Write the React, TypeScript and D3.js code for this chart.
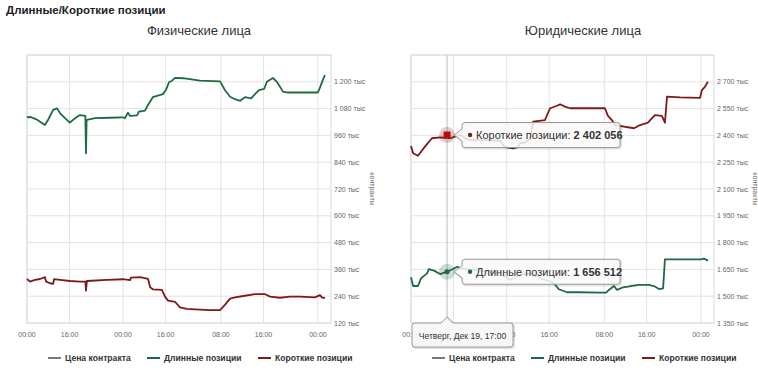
import React from 'react';
import * as d3 from 'd3';

// x is a position on the (ordinal, gap-free) time axis, 0..100
const xTickPos = [0, 14, 31.6, 45.6, 63.8, 77.8, 95.7];
const xTickLabels = ['00:00', '16:00', '00:00', '16:00', '08:00', '16:00', '00:00'];

const physTicks = [120, 240, 360, 480, 600, 720, 840, 960, 1080, 1200];
const jurTicks = [1350, 1500, 1650, 1800, 1950, 2100, 2250, 2400, 2550, 2700];

const physLong: [number, number][] = [
  [0, 1044], [0.6, 1040], [1.0, 1043], [2.5, 1035], [3.2, 1031], [4.3, 1021], [5.9, 1007], [6.9, 1029], [8.6, 1074],
  [9.9, 1081], [10.9, 1059], [12.5, 1037], [14.1, 1017], [15.8, 1037], [17.4, 1051],
  [19.2, 1047], [19.4, 880], [19.6, 1027], [19.7, 1029], [22.4, 1037], [27.3, 1039],
  [31.6, 1041], [32.2, 1037], [33.2, 1062], [33.9, 1047], [36.2, 1050], [36.8, 1066],
  [38.8, 1071], [39.8, 1096], [41.4, 1131], [44.7, 1145], [45.7, 1163], [46.7, 1198],
  [47.7, 1205], [48.7, 1218], [51.3, 1216], [56.9, 1205], [63.5, 1202], [63.8, 1195],
  [65.1, 1163], [66.8, 1133], [68.4, 1122], [70.1, 1115], [71.7, 1131], [73.7, 1126],
  [75.0, 1145], [76.3, 1163], [78.0, 1168], [78.9, 1200], [80.9, 1217], [82.2, 1200],
  [84.2, 1156], [85.9, 1152], [95.7, 1152], [96.4, 1175], [97.4, 1211], [98.0, 1230],
];

const physShort: [number, number][] = [
  [0, 317], [1.0, 305], [2.6, 313], [4.3, 317], [5.9, 325], [6.3, 305], [7.6, 298],
  [8.6, 295], [8.9, 316], [10.9, 313], [14.1, 308], [17.4, 305], [19.2, 305], [19.4, 265],
  [19.7, 308], [26.3, 313], [31.6, 316], [33.9, 312], [34.2, 323], [37.2, 325], [39.8, 318],
  [40.5, 280], [41.4, 271], [44.4, 268], [45.4, 238], [46.4, 220], [48.7, 215], [50.3, 190],
  [52.6, 183], [55.3, 181], [60.2, 178], [63.5, 178], [65.1, 201], [66.8, 229], [68.4, 235],
  [71.7, 242], [75.0, 249], [78.3, 249], [80.0, 238], [83.2, 233], [86.5, 238], [89.8, 238],
  [94.7, 235], [96.4, 245], [97.0, 235], [98.0, 231],
];

const jurLong: [number, number][] = [
  [0, 1606], [0.7, 1557], [2.3, 1557], [3.3, 1600], [5.3, 1628], [5.9, 1652], [7.6, 1643],
  [9.6, 1624], [11.9, 1637], [13.9, 1652], [15.2, 1665], [16.5, 1656], [18.2, 1651],
  [20.5, 1647], [25, 1640], [30, 1620], [32.7, 1591], [35.9, 1619], [39.3, 1628], [43.6, 1595],
  [45.5, 1585], [47.2, 1572], [48.8, 1539], [51.5, 1522], [55.4, 1522], [62.7, 1520],
  [64.4, 1520], [65.3, 1535], [67.0, 1557], [68.0, 1535], [70.0, 1550], [72.6, 1557],
  [75.2, 1563], [78.5, 1563], [80.2, 1557], [82.0, 1539], [83.2, 1544], [83.8, 1706],
  [95.7, 1706], [96.7, 1710], [98.0, 1699],
];

const jurShort: [number, number][] = [
  [0, 2341], [0.7, 2300], [2.3, 2286], [4.6, 2337], [6.9, 2384], [9.6, 2389], [12.9, 2384],
  [15.2, 2397], [16.5, 2402], [18.2, 2380], [19.5, 2374], [26.1, 2374], [29.4, 2370],
  [31.0, 2335], [33.7, 2328], [35.3, 2335], [36.0, 2356], [37.6, 2360], [39.3, 2380],
  [40.3, 2477], [44.2, 2486], [45.9, 2552], [48.2, 2566], [49.2, 2574], [50.8, 2561],
  [52.5, 2552], [64.0, 2552], [65.0, 2509], [66.3, 2486], [67.3, 2458], [73.6, 2440],
  [75.6, 2458], [78.2, 2471], [80.5, 2514], [82.8, 2509], [83.8, 2471], [84.5, 2617],
  [88.8, 2613], [95.4, 2610], [96.0, 2654], [97.0, 2672], [98.0, 2701],
];

const legendLabels = ['Цена контракта', 'Длинные позиции', 'Короткие позиции'];
const hoverIndex = 8; // point under the cursor in the right chart (x = 16.5)
const hoverDate = 'Четверг, Дек 19, 17:00';
const hoverShort = 2402056;
const hoverLong = 1656512;

const GREEN = '#1e6b42';
const RED = '#7d1a1a';
const PRICE = '#7a7a7a';
const FONT = '"Liberation Sans", Arial, sans-serif';

const fmt = (v: number) => d3.format(',')(v).replace(/,/g, ' ');

type PanelProps = {
  title: string;
  x0: number;
  x1: number;
  domain: [number, number];
  ticks: number[];
  long: [number, number][];
  short: [number, number][];
  hover?: number;
};

const Panel: React.FC<PanelProps> = ({ title, x0, x1, domain, ticks, long, short, hover }) => {
  const top = 55, bottom = 323;
  const x = d3.scaleLinear().domain([0, 100]).range([x0, x1]);
  const y = d3.scaleLinear().domain(domain).range([bottom, top]);
  const line = d3.line<[number, number]>().x(d => x(d[0])).y(d => y(d[1]));
  const center = 199 + (x0 - 27);
  const legendX = [center - 151, center - 52, center + 59];
  const legendColors = [PRICE, GREEN, RED];
  const gridY = [...ticks, domain[1]];

  let hoverEls: React.ReactNode = null;
  if (hover !== undefined) {
    const hx = x(long[hover][0]);
    const sy = y(short[hover][1]);
    const ly = y(long[hover][1]);
    const tipBox = (cy: number, color: string, label: string, val: number, square: boolean) => {
      const bx = hx + 15, bw = 158, bh = 25;
      const by = cy - bh / 2;
      const d = `M${bx + 3},${by} H${bx + bw - 3} Q${bx + bw},${by} ${bx + bw},${by + 3} V${by + bh - 3}
        Q${bx + bw},${by + bh} ${bx + bw - 3},${by + bh} H${bx + 3} Q${bx},${by + bh} ${bx},${by + bh - 3}
        V${cy + 6} L${hx + 7},${cy} L${bx},${cy - 6} V${by + 3} Q${bx},${by} ${bx + 3},${by} Z`;
      return (
        <g>
          <circle cx={hx} cy={cy} r={8} fill={color} opacity={0.22} />
          {square
            ? <rect x={hx - 3.5} y={cy - 3.5} width={7} height={7} fill="#b01010" />
            : <circle cx={hx} cy={cy} r={2.5} fill={color} />}
          <path d={d} transform="translate(1,1)" fill="none" stroke="#000" strokeOpacity={0.12} strokeWidth={2} />
          <path d={d} fill="rgba(249,249,249,0.86)" stroke="#9a9a9a" strokeWidth={1} />
          <circle cx={bx + 8} cy={cy} r={2.2} fill={color} />
          <text x={bx + 14} y={cy + 4} fontSize={11} fill="#333" fontFamily={FONT}>
            {label}: <tspan fontWeight="bold">{fmt(val)}</tspan>
          </text>
        </g>
      );
    };
    const dx0 = x0 + 1, dw = 101, dy = bottom, dh = 24;
    const dd = `M${dx0 + 3},${dy} H${hx - 6} L${hx},${dy - 6} L${hx + 6},${dy} H${dx0 + dw - 3}
      Q${dx0 + dw},${dy} ${dx0 + dw},${dy + 3} V${dy + dh - 3} Q${dx0 + dw},${dy + dh} ${dx0 + dw - 3},${dy + dh}
      H${dx0 + 3} Q${dx0},${dy + dh} ${dx0},${dy + dh - 3} V${dy + 3} Q${dx0},${dy} ${dx0 + 3},${dy} Z`;
    hoverEls = (
      <g>
        <line x1={hx} x2={hx} y1={top} y2={bottom} stroke="#c8c8c8" strokeWidth={1.2} />
        {tipBox(sy, RED, 'Короткие позиции', hoverShort, true)}
        {tipBox(ly, GREEN, 'Длинные позиции', hoverLong, false)}
        <path d={dd} transform="translate(1,1)" fill="none" stroke="#000" strokeOpacity={0.12} strokeWidth={2} />
        <path d={dd} fill="#f7f7f7" stroke="#9a9a9a" strokeWidth={1} />
        <text x={dx0 + dw / 2} y={dy + 15.5} textAnchor="middle" fontSize={8.6} fill="#333" fontFamily={FONT}>
          {hoverDate}
        </text>
      </g>
    );
  }

  return (
    <g>
      <text x={center} y={35} textAnchor="middle" fontSize={13} fill="#333" fontFamily={FONT}>{title}</text>
      {gridY.map(t => (
        <line key={'h' + t} x1={x0} x2={x1} y1={y(t)} y2={y(t)} stroke="#e3e3e3" strokeWidth={1} />
      ))}
      {xTickPos.map((t, i) => (
        <line key={'v' + i} x1={x(t)} x2={x(t)} y1={top} y2={bottom} stroke="#e3e3e3" strokeWidth={1} />
      ))}
      <rect x={x0} y={top} width={x1 - x0} height={bottom - top} fill="none" stroke="#d5dbe6" strokeWidth={1} />
      {ticks.map(t => (
        <text key={'yl' + t} x={x1 + 3} y={y(t) + 2.5} fontSize={7} fill="#666" fontFamily={FONT}>{fmt(t)} тыс</text>
      ))}
      <text transform={`translate(${x1 + 39},${(top + bottom) / 2}) rotate(90)`} textAnchor="middle"
        fontSize={7} fill="#666" fontFamily={FONT}>контракты</text>
      {xTickPos.map((t, i) => (
        <text key={'xl' + i} x={x(t)} y={337} textAnchor="middle" fontSize={7} fill="#666" fontFamily={FONT}>
          {xTickLabels[i]}
        </text>
      ))}
      <path d={line(long) || ''} fill="none" stroke={GREEN} strokeWidth={1.8} strokeLinejoin="round" />
      <path d={line(short) || ''} fill="none" stroke={RED} strokeWidth={1.8} strokeLinejoin="round" />
      {legendLabels.map((l, i) => (
        <g key={l}>
          <line x1={legendX[i]} x2={legendX[i] + 13} y1={358} y2={358} stroke={legendColors[i]} strokeWidth={2} />
          <text x={legendX[i] + 17} y={361} fontSize={8.6} fontWeight="bold" fill="#333" fontFamily={FONT}>{l}</text>
        </g>
      ))}
      {hoverEls}
    </g>
  );
};

const App: React.FC = () => (
  <div style={{ position: 'absolute', left: 0, top: 0 }}>
    <svg width={758} height={374} style={{ display: 'block', background: '#fff' }}>
      <text x={6} y={14} fontSize={11.5} fontWeight="bold" fill="#222" fontFamily={FONT}>Длинные/Короткие позиции</text>
      <Panel title="Физические лица" x0={27} x1={331} domain={[120, 1320]} ticks={physTicks}
        long={physLong} short={physShort} />
      <Panel title="Юридические лица" x0={411} x1={714} domain={[1350, 2850]} ticks={jurTicks}
        long={jurLong} short={jurShort} hover={hoverIndex} />
    </svg>
  </div>
);

export default App;
